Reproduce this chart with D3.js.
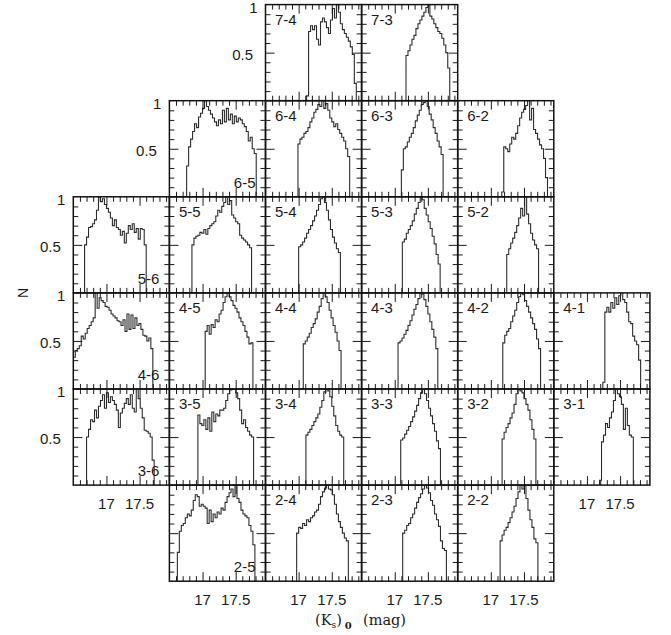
<!DOCTYPE html>
<html><head><meta charset="utf-8">
<script src="https://cdn.jsdelivr.net/npm/d3@7"></script>
<style>body{margin:0;background:#fff}svg{display:block}</style>
</head><body><svg id="c" width="671" height="635"></svg>
<script>
// ---------- data ----------
const panelLabels = ["7-4","7-3","6-5","6-4","6-3","6-2","5-6","5-5","5-4","5-3","5-2",
  "4-6","4-5","4-4","4-3","4-2","4-1","3-6","3-5","3-4","3-3","3-2","3-1","2-5","2-4","2-3","2-2"];
const panelStarts = [17.12,17.17,16.76,16.99,17.10,17.165,16.67,16.84,17.00,17.115,17.24,
  16.50,17.04,17.07,17.05,17.18,17.24,16.70,16.93,17.11,17.09,17.17,17.19,16.62,16.97,17.12,17.14];
const binWidth = 0.03;
const panelCounts = [
  [0.05,0.72,0.78,0.74,0.78,0.64,0.58,0.82,0.86,0.82,0.76,0.70,0.84,0.96,0.86,1.00,0.92,0.80,0.74,0.70,0.66,0.62,0.56,0.48,0.18],
  [0.47,0.52,0.58,0.64,0.68,0.75,0.80,0.84,0.88,0.92,0.97,1.00,0.88,0.85,0.80,0.76,0.72,0.70,0.65,0.58,0.50,0.34],
  [0.32,0.52,0.60,0.68,0.76,0.72,0.83,0.87,0.92,1.00,0.94,0.90,0.86,0.82,0.78,0.74,0.80,0.76,0.90,0.78,0.92,0.80,0.86,0.76,0.84,0.78,0.82,0.80,0.76,0.73,0.68,0.58,0.62,0.50,0.45],
  [0.55,0.60,0.62,0.66,0.68,0.72,0.78,0.82,0.88,0.91,0.96,0.94,1.00,0.92,0.97,0.90,0.82,0.78,0.73,0.76,0.70,0.66,0.62,0.58,0.50,0.42],
  [0.28,0.50,0.52,0.57,0.62,0.66,0.72,0.79,0.85,0.90,0.96,0.98,1.00,0.94,0.86,0.80,0.72,0.66,0.58,0.52,0.44],
  [0.05,0.52,0.50,0.47,0.55,0.62,0.60,0.66,0.74,0.82,0.88,0.91,0.95,1.00,0.80,0.92,0.70,0.66,0.60,0.54,0.50,0.40,0.20],
  [0.50,0.58,0.68,0.69,0.72,0.76,0.86,1.00,0.95,0.98,0.92,0.88,0.84,0.78,0.70,0.76,0.68,0.66,0.60,0.64,0.52,0.62,0.70,0.66,0.72,0.63,0.67,0.56,0.67,0.66,0.50],
  [0.50,0.57,0.59,0.60,0.63,0.62,0.66,0.61,0.67,0.70,0.72,0.74,0.80,0.86,0.84,0.90,0.94,1.00,0.92,0.96,0.81,0.78,0.74,0.72,0.60,0.57,0.55,0.53,0.50,0.47],
  [0.48,0.50,0.53,0.57,0.62,0.66,0.70,0.75,0.80,0.86,0.92,0.98,1.00,0.94,0.86,0.76,0.66,0.58,0.52,0.46,0.42],
  [0.53,0.56,0.62,0.66,0.70,0.75,0.82,0.88,0.94,1.00,0.97,0.88,0.81,0.74,0.67,0.59,0.51,0.40,0.30],
  [0.40,0.46,0.52,0.57,0.63,0.70,0.78,0.88,0.80,1.00,0.82,0.72,0.62,0.55,0.50,0.46],
  [0.33,0.40,0.42,0.45,0.55,0.52,0.58,0.63,0.66,0.70,0.74,1.00,0.84,0.95,0.92,0.90,0.86,0.85,0.82,0.78,0.76,0.74,0.71,0.70,0.66,0.72,0.60,0.78,0.62,0.77,0.63,0.74,0.66,0.68,0.62,0.56,0.55,0.50,0.53,0.42],
  [0.60,0.66,0.57,0.67,0.64,0.72,0.70,0.78,0.82,0.90,0.96,1.00,0.96,0.92,0.87,0.84,0.80,0.74,0.70,0.66,0.60,0.54,0.47,0.48],
  [0.47,0.50,0.54,0.58,0.64,0.68,0.73,0.80,0.86,0.94,1.00,0.96,0.90,0.82,0.74,0.66,0.59,0.50,0.40],
  [0.48,0.50,0.53,0.57,0.61,0.66,0.71,0.77,0.83,0.88,0.94,1.00,0.99,0.93,0.86,0.78,0.70,0.62,0.54,0.42],
  [0.48,0.56,0.60,0.63,0.70,0.76,0.82,0.90,0.96,1.00,0.98,0.92,0.86,0.80,0.74,0.68,0.62,0.52,0.42],
  [0.07,0.80,0.85,0.80,0.90,0.84,0.95,0.88,0.97,1.00,0.93,0.90,0.80,0.70,0.68,0.55,0.50,0.46,0.30],
  [0.50,0.58,0.68,0.66,0.78,0.70,0.82,0.88,0.94,0.80,0.96,0.86,0.92,0.88,0.84,0.78,0.60,0.75,0.80,0.85,0.90,0.84,0.94,0.80,0.76,1.00,0.90,0.80,0.70,0.57,0.56,0.54,0.50,0.26],
  [0.73,0.64,0.62,0.68,0.58,0.70,0.56,0.76,0.66,0.74,0.72,0.78,0.78,0.80,0.88,0.95,0.99,1.00,1.00,0.96,0.90,0.78,0.64,0.68,0.60,0.56,0.52,0.50],
  [0.52,0.55,0.58,0.62,0.66,0.70,0.74,0.81,0.88,0.97,1.00,0.98,0.92,0.82,0.72,0.62,0.56,0.52,0.50],
  [0.47,0.49,0.53,0.57,0.61,0.66,0.71,0.77,0.83,0.90,0.96,1.00,0.95,0.88,0.80,0.72,0.64,0.56,0.46,0.38],
  [0.48,0.55,0.60,0.64,0.70,0.75,0.84,0.95,1.00,0.98,0.96,0.90,0.84,0.78,0.68,0.58,0.48],
  [0.05,0.45,0.52,0.64,0.60,0.70,0.76,0.88,1.00,0.95,0.92,0.84,0.58,0.80,0.62,0.52,0.50],
  [0.30,0.52,0.58,0.60,0.66,0.70,0.68,0.74,0.84,0.90,0.88,0.78,0.80,0.78,0.76,0.60,0.74,0.62,0.70,0.66,0.72,0.70,0.76,0.74,0.82,0.88,0.92,0.96,0.88,1.00,0.86,0.82,0.74,0.70,0.68,0.66,0.58,0.52,0.38],
  [0.50,0.56,0.55,0.60,0.58,0.64,0.62,0.66,0.68,0.72,0.74,0.80,0.88,0.93,0.97,1.00,0.96,0.95,0.90,0.80,0.70,0.62,0.56,0.50,0.45,0.42],
  [0.50,0.53,0.58,0.60,0.66,0.70,0.76,0.82,0.87,0.91,0.96,1.00,0.97,0.92,0.84,0.79,0.70,0.64,0.57,0.42,0.34,0.32],
  [0.42,0.48,0.53,0.56,0.61,0.66,0.72,0.78,0.86,0.93,1.00,0.96,1.00,0.86,0.74,0.64,0.56,0.44,0.40]
];
const rowOrder = [7,6,5,4,3,2];
const colOrder = [6,5,4,3,2,1];
const xDomain = [16.5, 17.95];
const xMajorTicks = [17, 17.5];
const xMinorTicks = [16.6,16.7,16.8,16.9,17.1,17.2,17.3,17.4,17.6,17.7,17.8,17.9];
const yMajorTicks = [0.5];
const yMinorTicks = [0.1,0.2,0.3,0.4,0.6,0.7,0.8,0.9];
const xTickLabelValues = [17, 17.5];
const yTickLabelValues = [1, 0.5];
const bottomRightLabelPanels = ["6-5","5-6","4-6","3-6","2-5"];
const yLabelPanels = ["7-4","6-5","5-6","4-6","3-6"];
const xLabelPanels = ["3-6","3-1","2-5","2-4","2-3","2-2"];

// ---------- drawing ----------
const svg = d3.select("#c");
svg.append("rect").attr("width",671).attr("height",635).attr("fill","#fff");
const S = 96.1;
const colBand = d3.scaleBand().domain(colOrder).range([73.3, 73.3 + 6*S]);
const rowBand = d3.scaleBand().domain(rowOrder).range([4.6, 4.6 + 6*S]);
const x = d3.scaleLinear().domain(xDomain).range([0, S]);
const y = d3.scaleLinear().domain([0, 1]).range([S, 0]);
const sans = "'Liberation Sans', Arial, Helvetica, sans-serif";
const serif = "'DejaVu Serif', 'Liberation Serif', serif";

const line = d3.line().x(d => x(d[0])).y(d => y(d[1])).curve(d3.curveStepAfter);

function ticks(g, axis, vals, len, tr) {
  const a = g.append("g").attr("transform", tr || null).attr("color", "#1a1a1a")
    .call(axis.tickValues(vals).tickSize(-len).tickFormat(""));
  a.select(".domain").remove();
  a.selectAll("line").attr("stroke-width", 1);
}

panelLabels.forEach((lab, i) => {
  const [r, c] = lab.split("-").map(Number);
  const g = svg.append("g").attr("transform", `translate(${colBand(c)},${rowBand(r)})`);
  const cid = "clip" + i;
  g.append("clipPath").attr("id", cid).append("rect").attr("width", S).attr("height", S);

  const s = panelStarts[i], v = panelCounts[i];
  const pts = [[s, 0]].concat(v.map((d, k) => [s + k*binWidth, d]), [[s + v.length*binWidth, 0]]);
  g.append("path").attr("d", line(pts)).attr("fill", "none")
    .attr("stroke", "#2b2b2b").attr("stroke-width", 1.1).attr("clip-path", `url(#${cid})`);

  // ticks on all four sides (inward)
  ticks(g, d3.axisBottom(x), xMinorTicks, 5, `translate(0,${S})`);
  ticks(g, d3.axisBottom(x), xMajorTicks, 9, `translate(0,${S})`);
  ticks(g, d3.axisTop(x), xMinorTicks, 5);
  ticks(g, d3.axisTop(x), xMajorTicks, 9);
  ticks(g, d3.axisLeft(y), yMinorTicks, 5);
  ticks(g, d3.axisLeft(y), yMajorTicks, 9);
  ticks(g, d3.axisRight(y), yMinorTicks, 5, `translate(${S},0)`);
  ticks(g, d3.axisRight(y), yMajorTicks, 9, `translate(${S},0)`);

  g.append("rect").attr("width", S).attr("height", S).attr("fill", "none")
    .attr("stroke", "#111").attr("stroke-width", 1.5);

  const br = bottomRightLabelPanels.includes(lab);
  g.append("text").text(lab)
    .attr("x", br ? S - 10 : 9.5).attr("y", br ? S - 9 : 20)
    .attr("text-anchor", br ? "end" : "start")
    .attr("font-family", sans).attr("font-size", 15).attr("fill", "#1a1a1a");

  if (yLabelPanels.includes(lab)) {
    yTickLabelValues.forEach(t => {
      g.append("text").text(String(t))
        .attr("x", t === 1 ? -8 : -12.5).attr("y", y(t) + (t === 1 ? 8 : 7))
        .attr("text-anchor", "end").attr("font-family", sans).attr("font-size", 15).attr("fill", "#1a1a1a");
    });
  }
  if (xLabelPanels.includes(lab)) {
    xTickLabelValues.forEach(t => {
      g.append("text").text(String(t))
        .attr("x", x(t)).attr("y", S + 24)
        .attr("text-anchor", "middle").attr("font-family", sans).attr("font-size", 15).attr("fill", "#1a1a1a");
    });
  }
});

// axis titles
svg.append("text").text("N")
  .attr("transform", "translate(23,293) rotate(-90)")
  .attr("text-anchor", "middle").attr("dominant-baseline", "central")
  .attr("font-family", sans).attr("font-size", 14).attr("fill", "#1a1a1a");

const tt = svg.append("text").attr("y", 625).attr("font-family", serif).attr("font-size", 14.5).attr("fill", "#1a1a1a");
tt.append("tspan").attr("x", 315).text("(K");
tt.append("tspan").attr("font-size", 9).attr("dy", 3).text("s");
tt.append("tspan").attr("dy", -3).text(")");
tt.append("tspan").attr("dx", 3).attr("dy", 4).attr("font-size", 10).attr("font-weight", "bold").text("0");
tt.append("tspan").attr("x", 363).attr("dy", -4).text("(mag)");
</script>
</body></html>
